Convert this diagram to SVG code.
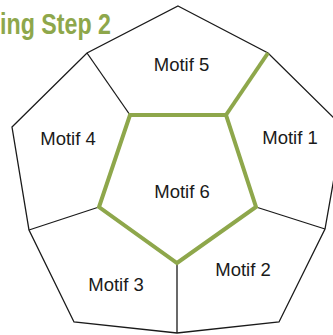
<svg xmlns="http://www.w3.org/2000/svg" width="333" height="335" viewBox="0 0 333 335">
<style>
.edge{fill:none;stroke:#1a1a1a;stroke-width:1.3;stroke-linejoin:miter}
.hl{fill:none;stroke:#8ea74b;stroke-width:4;stroke-linejoin:miter;stroke-linecap:butt}
.lbl{font-family:"Liberation Sans",Arial,sans-serif;font-size:18.5px;fill:#1a1a1a;text-anchor:middle}
.title{font-family:"Liberation Sans Narrow","Liberation Sans",Arial,sans-serif;font-weight:bold;font-size:29px;fill:#8ea74b}
</style>
<rect width="333" height="335" fill="#ffffff"/>
<text class="title" x="0" y="34" textLength="111" lengthAdjust="spacingAndGlyphs">ing Step 2</text>
<g id="connectors">
<polygon class="edge" points="178,6 268,53 343,127 325,229 279,322 177,333 74,322 29,230 12,127 87,53"/>
<line class="edge" x1="130" y1="115" x2="87" y2="53"/>
<line class="edge" x1="256" y1="207" x2="325" y2="229"/>
<line class="edge" x1="177" y1="263" x2="177" y2="333"/>
<line class="edge" x1="99" y1="207" x2="29" y2="230"/>
<polygon class="hl" points="130,115 226,115 256,207 177,263 99,207"/>
<line class="hl" x1="226" y1="115" x2="268" y2="53"/>
</g>
<g id="motif5"><text class="lbl" x="181.5" y="71">Motif 5</text></g>
<g id="motif4"><text class="lbl" x="68" y="145">Motif 4</text></g>
<g id="motif1"><text class="lbl" x="290" y="144">Motif 1</text></g>
<g id="motif6"><text class="lbl" x="182" y="198">Motif 6</text></g>
<g id="motif2"><text class="lbl" x="243" y="276">Motif 2</text></g>
<g id="motif3"><text class="lbl" x="116" y="291">Motif 3</text></g>
</svg>
